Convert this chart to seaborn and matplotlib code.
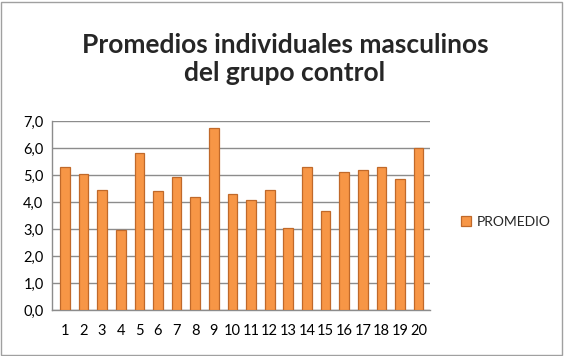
import matplotlib
matplotlib.use("Agg")
import matplotlib.pyplot as plt
import seaborn as sns
import pandas as pd
from matplotlib.ticker import FuncFormatter, MultipleLocator
from matplotlib.patches import Rectangle

categories = [str(i) for i in range(1, 21)]
promedio = [5.3, 5.05, 4.45, 2.95, 5.8, 4.4, 4.92, 4.2, 6.75, 4.3,
            4.08, 4.43, 3.04, 5.3, 3.67, 5.1, 5.2, 5.3, 4.87, 6.0]
series_name = "PROMEDIO"
title = "Promedios individuales masculinos\ndel grupo control"

sns.set_theme(style="white")
plt.rcParams['font.family'] = ['Lato', 'DejaVu Sans']

df = pd.DataFrame({"cat": categories, "val": promedio})

fig = plt.figure(figsize=(5.64, 3.56), dpi=100)
ax = fig.add_axes([0.092, 0.129, 0.67, 0.531])

sns.barplot(data=df, x="cat", y="val", color="#F79646", width=0.52,
            edgecolor="#C0692A", linewidth=0.9, ax=ax, saturation=1,
            label=series_name, zorder=3)

ax.set_ylim(0, 7)
ax.set_xlim(-0.7, 19.6)
ax.yaxis.set_major_locator(MultipleLocator(1))
ax.yaxis.set_major_formatter(FuncFormatter(lambda v, p: f"{v:.1f}".replace(".", ",")))
ax.grid(axis="y", color="#8C8C8C", linewidth=1.0, zorder=0)
ax.set_xlabel("")
ax.set_ylabel("")
for s in ["top", "right"]:
    ax.spines[s].set_visible(False)
for s in ["left", "bottom"]:
    ax.spines[s].set_color("#8C8C8C")
    ax.spines[s].set_linewidth(1.0)
ax.tick_params(axis="both", labelsize=10.5, colors="#000000", length=4, width=1,
               direction="out", pad=2)
ax.tick_params(axis="x", pad=6)
ax.tick_params(axis="both", color="#8C8C8C")

fig.text(0.505, 0.835, title, ha="center", va="center", fontsize=19,
         fontweight="bold", linespacing=1.2)

leg = ax.legend(loc="center left", bbox_to_anchor=(1.05, 0.466), frameon=False,
                fontsize=10, handlelength=0.7, handleheight=0.7, handletextpad=0.4)

fig.patches.append(Rectangle((0.002, 0.003), 0.994, 0.992, transform=fig.transFigure,
                             fill=False, edgecolor="#A0A0A0", linewidth=1.0))

fig.savefig("out.png", dpi=100)
